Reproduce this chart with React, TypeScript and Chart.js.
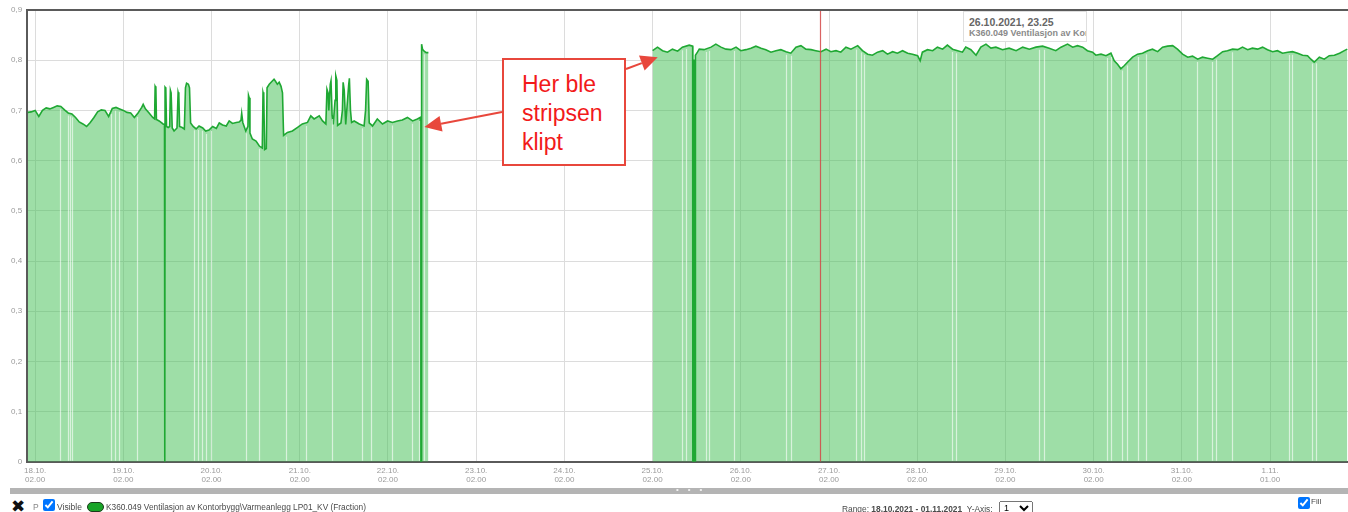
import { useEffect, useRef } from 'react';
import { Chart, registerables } from 'chart.js';

Chart.register(...registerables);

// ---- data (hours after 18.10.2021 02.00, fraction) ----
const TICK_HOURS = [0, 24, 48, 72, 96, 120, 144, 168, 192, 216, 240, 264, 288, 312, 336];
const TICK_LABELS: string[][] = [
  ['18.10.', '02.00'], ['19.10.', '02.00'], ['20.10.', '02.00'], ['21.10.', '02.00'],
  ['22.10.', '02.00'], ['23.10.', '02.00'], ['24.10.', '02.00'], ['25.10.', '02.00'],
  ['26.10.', '02.00'], ['27.10.', '02.00'], ['28.10.', '02.00'], ['29.10.', '02.00'],
  ['30.10.', '02.00'], ['31.10.', '02.00'], ['1.11.', '01.00'],
];
const X_MIN = -2.18;
const X_MAX = 357.2;

const SEGMENT_1: [number, number][] = [
  [-2.0, 0.696], [-1.1, 0.697], [0, 0.7], [1.0, 0.688], [2.0, 0.7], [3.0, 0.705], [4.0, 0.703],
  [5.0, 0.706], [6.0, 0.709], [7.0, 0.708], [8.0, 0.701], [9.0, 0.695], [10.0, 0.693], [11.0, 0.686],
  [12.0, 0.677], [13.0, 0.673], [14.0, 0.668], [15.0, 0.676], [16.0, 0.686], [17.0, 0.697],
  [18.0, 0.701], [19.0, 0.7], [20.0, 0.688], [21.0, 0.704], [22.0, 0.706], [23.0, 0.703],
  [24.0, 0.7], [25.0, 0.696], [26.0, 0.695], [27.0, 0.686], [28.0, 0.695], [29.0, 0.706],
  [29.4, 0.712], [30.0, 0.703], [31.0, 0.695], [32.0, 0.686], [32.5, 0.683], [32.65, 0.748],
  [32.85, 0.745], [33.0, 0.682], [33.75, 0.679], [34.8, 0.673], [35.2, 0.672], [35.25, 0],
  [35.3, 0], [35.35, 0.746], [35.55, 0.744], [35.75, 0.668], [36.2, 0.666], [36.6, 0.668],
  [36.8, 0.74], [37.0, 0.735], [37.3, 0.665], [37.8, 0.659], [38.6, 0.665], [38.9, 0.736],
  [39.1, 0.73], [39.3, 0.668], [40.0, 0.666], [40.6, 0.663], [40.9, 0.745], [41.2, 0.754],
  [41.7, 0.752], [42.0, 0.745], [42.3, 0.675], [43.0, 0.668], [43.8, 0.663], [44.6, 0.669],
  [45.6, 0.665], [46.4, 0.659], [47.3, 0.661], [48.3, 0.668], [49.3, 0.664], [50.1, 0.675],
  [51.0, 0.671], [52.0, 0.669], [52.8, 0.679], [53.7, 0.674], [54.7, 0.676], [55.5, 0.677],
  [56.0, 0.68], [56.2, 0.694], [56.5, 0.676], [57.3, 0.659], [57.9, 0.668], [58.05, 0.73],
  [58.25, 0.725], [58.45, 0.655], [59.1, 0.643], [60.1, 0.639], [61.0, 0.629], [61.8, 0.625],
  [62.0, 0.736], [62.2, 0.73], [62.45, 0.622], [62.9, 0.624], [63.1, 0.745], [63.7, 0.752],
  [64.6, 0.759], [65.0, 0.762], [65.4, 0.758], [65.9, 0.752], [66.4, 0.756], [66.9, 0.748],
  [67.3, 0.735], [67.6, 0.65], [68.65, 0.656], [70.0, 0.659], [71.4, 0.666], [72.7, 0.673],
  [74.1, 0.676], [75.0, 0.689], [75.9, 0.683], [77.3, 0.689], [78.2, 0.679], [79.1, 0.673],
  [79.4, 0.742], [79.7, 0.735], [79.9, 0.7], [80.3, 0.752], [80.5, 0.759], [80.8, 0.69],
  [81.1, 0.672], [81.6, 0.72], [81.8, 0.769], [82.1, 0.76], [82.3, 0.67], [83.2, 0.675],
  [83.6, 0.7], [83.8, 0.756], [84.1, 0.74], [84.5, 0.672], [85.3, 0.75], [85.5, 0.764],
  [85.8, 0.7], [86.1, 0.676], [86.8, 0.679], [88.2, 0.673], [89.5, 0.669], [89.9, 0.7],
  [90.2, 0.762], [90.6, 0.758], [90.9, 0.675], [91.8, 0.669], [93.1, 0.683], [94.5, 0.673],
  [95.9, 0.679], [97.2, 0.676], [98.6, 0.679], [99.9, 0.681], [101.3, 0.686], [102.7, 0.679],
  [104.0, 0.683], [104.8, 0.686], [104.95, 0], [105.1, 0], [105.15, 0.832], [105.4, 0.822],
  [105.85, 0.818], [106.4, 0.815], [107.0, 0.815],
];

const SEGMENT_2: [number, number][] = [
  [168.0, 0.819], [169.33, 0.826], [170.7, 0.819], [172.05, 0.816], [173.4, 0.822], [174.8, 0.818],
  [176.1, 0.826], [177.96, 0.83], [178.9, 0.828], [178.95, 0], [179.1, 0], [179.15, 0.8],
  [179.45, 0.8], [179.5, 0], [179.6, 0], [179.65, 0.81], [180.2, 0.816], [180.7, 0.822],
  [181.98, 0.821], [183.9, 0.826], [185.2, 0.832], [186.6, 0.826], [187.95, 0.822], [189.3, 0.821],
  [190.7, 0.826], [192.0, 0.819], [193.4, 0.821], [194.75, 0.824], [196.1, 0.828], [197.5, 0.824],
  [198.8, 0.821], [200.2, 0.816], [201.55, 0.819], [202.9, 0.821], [204.3, 0.817], [205.6, 0.814],
  [207.0, 0.826], [208.35, 0.829], [209.7, 0.822], [211.1, 0.821], [212.4, 0.819], [213.8, 0.817],
  [215.2, 0.822], [216.5, 0.817], [217.9, 0.819], [219.2, 0.816], [220.6, 0.826], [221.96, 0.822],
  [223.8, 0.829], [225.1, 0.819], [226.5, 0.812], [227.8, 0.81], [229.2, 0.816], [230.6, 0.819],
  [231.9, 0.812], [233.3, 0.817], [234.6, 0.814], [236.0, 0.819], [237.4, 0.814], [238.7, 0.812],
  [240.1, 0.809], [240.8, 0.799], [241.4, 0.816], [242.8, 0.821], [244.2, 0.819], [245.5, 0.826],
  [246.9, 0.822], [248.2, 0.83], [249.6, 0.822], [251.0, 0.819], [252.3, 0.816], [253.2, 0.826],
  [254.6, 0.821], [256.0, 0.81], [257.3, 0.826], [258.7, 0.832], [260.05, 0.824], [261.4, 0.826],
  [263.2, 0.821], [265.0, 0.824], [266.9, 0.819], [268.7, 0.826], [270.5, 0.822], [272.3, 0.826],
  [274.1, 0.828], [275.9, 0.824], [277.7, 0.819], [279.1, 0.826], [280.9, 0.832], [282.3, 0.826],
  [283.6, 0.829], [285.0, 0.826], [286.3, 0.819], [287.7, 0.816], [288.6, 0.81], [290.0, 0.812],
  [291.35, 0.809], [292.7, 0.814], [293.6, 0.799], [294.5, 0.792], [295.4, 0.783], [296.3, 0.789],
  [297.2, 0.796], [298.6, 0.806], [299.95, 0.812], [301.3, 0.814], [302.7, 0.819], [304.0, 0.822],
  [305.4, 0.817], [306.75, 0.826], [308.1, 0.828], [309.5, 0.829], [310.8, 0.822], [312.2, 0.812],
  [313.6, 0.806], [314.9, 0.808], [316.3, 0.802], [317.6, 0.806], [319.0, 0.804], [320.4, 0.802],
  [321.7, 0.809], [323.1, 0.817], [324.4, 0.819], [325.8, 0.822], [327.2, 0.821], [328.5, 0.826],
  [329.9, 0.821], [331.2, 0.824], [332.6, 0.822], [333.96, 0.826], [335.3, 0.821], [336.7, 0.817],
  [338.0, 0.819], [339.4, 0.814], [340.8, 0.816], [342.1, 0.817], [343.5, 0.814], [344.85, 0.81],
  [346.2, 0.809], [347.1, 0.802], [348.0, 0.796], [349.4, 0.806], [350.75, 0.802], [352.1, 0.809],
  [353.5, 0.81], [354.9, 0.814], [356.2, 0.819], [357.0, 0.822],
];

// hours where single samples are missing (white stripes in the fill)
const GAP_HOURS = [
  6.72, 8.84, 9.44, 10.15, 20.68, 21.63, 22.86, 27.76, 43.27, 44.35, 45.44, 46.39, 47.89, 57.4,
  60.95, 68.22, 73.66, 80.82, 88.98, 91.35, 97.14, 102.59, 104.49, 105.85,
  176.05, 177.14, 182.45, 183.27, 190.21, 204.36, 205.72, 223.4, 224.77, 225.58, 249.52, 250.61,
  273.2, 274.56, 291.7, 292.79, 295.78, 297.15, 300.14, 302.32, 316.19, 320.27, 321.36, 325.71,
  341.22, 342.04, 347.49, 348.58,
];

const CURSOR_HOUR = 213.42; // 26.10.2021, 23.25
const ARROW_TARGETS: [number, number][] = [[105.9, 0.667], [169.4, 0.806]];

const SERIES_NAME = 'K360.049 Ventilasjon av Kontorbygg\\Varmeanlegg LP01_KV (Fraction)';

// ---- styles ----
const LINE_COLOR = '#1fa833';
const FILL_COLOR = 'rgba(61,189,79,0.5)';
const GRID_COLOR = '#dcdcdc';
const AXIS_COLOR = '#5a5a5a';
const TICK_COLOR = '#9a9a9a';
const RED = '#e8473c';
const FONT = '"Liberation Sans", Arial, sans-serif';

function valueAt(h: number): number | null {
  const all = [...SEGMENT_1, ...SEGMENT_2];
  for (let i = 0; i < all.length - 1; i++) {
    const [x0, y0] = all[i];
    const [x1, y1] = all[i + 1];
    if (h >= x0 && h <= x1 && x1 - x0 < 10) {
      const t = (h - x0) / (x1 - x0 || 1);
      return y0 + (y1 - y0) * t;
    }
  }
  return null;
}

function drawArrow(ctx: CanvasRenderingContext2D, x0: number, y0: number, x1: number, y1: number) {
  const ang = Math.atan2(y1 - y0, x1 - x0);
  const L = 17;
  const W = 8;
  const bx = x1 - L * Math.cos(ang);
  const by = y1 - L * Math.sin(ang);
  ctx.beginPath();
  ctx.moveTo(x0, y0);
  ctx.lineTo(bx, by);
  ctx.stroke();
  ctx.beginPath();
  ctx.moveTo(x1, y1);
  ctx.lineTo(bx + W * Math.sin(ang), by - W * Math.cos(ang));
  ctx.lineTo(bx - W * Math.sin(ang), by + W * Math.cos(ang));
  ctx.closePath();
  ctx.fill();
}

const overlayPlugin = {
  id: 'overlay',
  afterDatasetsDraw(chart: any) {
    const { ctx, chartArea: a, scales } = chart;
    const x = scales.x;
    const y = scales.y;
    ctx.save();
    ctx.beginPath();
    ctx.rect(a.left, a.top, a.right - a.left, a.bottom - a.top);
    ctx.clip();
    ctx.strokeStyle = 'rgba(255,255,255,0.6)';
    ctx.lineWidth = 1.2;
    for (const g of GAP_HOURS) {
      const v = valueAt(g);
      if (v == null) continue;
      const px = Math.round(x.getPixelForValue(g)) + 0.5;
      ctx.beginPath();
      ctx.moveTo(px, y.getPixelForValue(0) - 1);
      ctx.lineTo(px, y.getPixelForValue(v) + 3);
      ctx.stroke();
    }
    const cx = Math.round(x.getPixelForValue(CURSOR_HOUR)) + 0.5;
    ctx.strokeStyle = 'rgba(212,70,70,0.85)';
    ctx.lineWidth = 1.2;
    ctx.beginPath();
    ctx.moveTo(cx, a.top);
    ctx.lineTo(cx, a.bottom);
    ctx.stroke();
    ctx.restore();

    ctx.save();
    ctx.strokeStyle = AXIS_COLOR;
    ctx.lineWidth = 2;
    ctx.beginPath();
    ctx.moveTo(a.left - 1, a.top);
    ctx.lineTo(a.right, a.top);
    ctx.stroke();
    ctx.restore();
  },
  afterDraw(chart: any) {
    const { ctx, scales } = chart;
    const from: [number, number][] = [[502, 112], [626, 69]];
    ctx.save();
    ctx.strokeStyle = RED;
    ctx.fillStyle = RED;
    ctx.lineWidth = 2;
    ARROW_TARGETS.forEach(([h, v], i) => {
      drawArrow(ctx, from[i][0], from[i][1], scales.x.getPixelForValue(h), scales.y.getPixelForValue(v));
    });
    ctx.restore();
  },
};

export default function App() {
  const canvasRef = useRef<HTMLCanvasElement | null>(null);

  useEffect(() => {
    document.body.style.margin = '0';
    const canvas = canvasRef.current;
    if (!canvas) return;
    Chart.defaults.font.family = FONT;
    const points: any[] = [
      ...SEGMENT_1.map(([x, y]) => ({ x, y })),
      { x: 137, y: null },
      ...SEGMENT_2.map(([x, y]) => ({ x, y })),
    ];
    const chart = new Chart(canvas, {
      type: 'line',
      data: {
        datasets: [
          {
            data: points,
            borderColor: LINE_COLOR,
            backgroundColor: FILL_COLOR,
            borderWidth: 1.6,
            fill: 'origin',
            pointRadius: 0,
            tension: 0,
            spanGaps: false,
          },
        ],
      },
      options: {
        animation: false,
        responsive: false,
        events: [],
        layout: { padding: { left: 6, top: 10, right: 0, bottom: 0 } },
        plugins: { legend: { display: false }, tooltip: { enabled: false } },
        scales: {
          x: {
            type: 'linear',
            min: X_MIN,
            max: X_MAX,
            afterBuildTicks: (s: any) => {
              s.ticks = TICK_HOURS.map((v) => ({ value: v }));
            },
            ticks: {
              autoSkip: false,
              maxRotation: 0,
              padding: 4,
              color: TICK_COLOR,
              font: { size: 8, lineHeight: 1.2 },
              callback: (v: any) => {
                const i = TICK_HOURS.indexOf(Number(v));
                return i >= 0 ? TICK_LABELS[i] : '';
              },
            },
            grid: { color: GRID_COLOR, drawTicks: false },
            border: { color: AXIS_COLOR, width: 2 },
          },
          y: {
            min: 0,
            max: 0.9,
            ticks: {
              stepSize: 0.1,
              padding: 5,
              color: TICK_COLOR,
              font: { size: 8 },
              callback: (v: any) => (Number(v) === 0 ? '0' : Number(v).toFixed(1).replace('.', ',')),
            },
            grid: { color: GRID_COLOR, drawTicks: false },
            border: { color: AXIS_COLOR, width: 2 },
          },
        },
      },
      plugins: [overlayPlugin],
    } as any);
    return () => chart.destroy();
  }, []);

  const small: any = { position: 'absolute', fontSize: 8.5, color: '#4a4a4a', whiteSpace: 'nowrap', lineHeight: '12px' };

  return (
    <div style={{ position: 'relative', width: 1348, height: 512, overflow: 'hidden', fontFamily: FONT, background: '#fff' }}>
      <canvas ref={canvasRef} width={1348} height={489} style={{ position: 'absolute', left: 0, top: 0 }} />

      {/* hover tooltip */}
      <div
        style={{
          position: 'absolute', left: 963, top: 11, width: 124, height: 31, background: '#fff',
          border: '1px solid #dedede', boxSizing: 'border-box', overflow: 'hidden', whiteSpace: 'nowrap',
          paddingLeft: 5, paddingTop: 4,
        }}
      >
        <div style={{ fontSize: 10.5, fontWeight: 'bold', color: '#666', lineHeight: '12px' }}>26.10.2021, 23.25</div>
        <div style={{ fontSize: 9, fontWeight: 'bold', color: '#8a8a8a', lineHeight: '11px' }}>{SERIES_NAME}</div>
      </div>

      {/* annotation */}
      <div
        style={{
          position: 'absolute', left: 502, top: 58, width: 124, height: 108, boxSizing: 'border-box',
          border: `2px solid ${RED}`, background: '#fff', paddingLeft: 18, paddingTop: 10,
          color: '#f21a1a', fontSize: 23, lineHeight: '29px',
        }}
      >
        Her ble<br />stripsen<br />klipt
      </div>

      {/* splitter bar */}
      <div style={{ position: 'absolute', left: 10, top: 488, width: 1338, height: 6, background: '#b4b4b4' }} />
      <div style={{ position: 'absolute', left: 676, top: 484, fontSize: 8, color: '#f2f2f2', letterSpacing: 9, lineHeight: '12px' }}>•••</div>

      {/* legend row */}
      <div style={{ position: 'absolute', left: 11, top: 498, fontSize: 17, fontWeight: 'bold', color: '#111', lineHeight: '16px', fontFamily: '"DejaVu Sans", sans-serif' }}>✖</div>
      <div style={{ ...small, left: 33, top: 501, color: '#888' }}>P</div>
      <input type="checkbox" checked readOnly style={{ position: 'absolute', left: 43, top: 499, width: 12, height: 12, margin: 0 }} />
      <div style={{ ...small, left: 57, top: 501 }}>Visible</div>
      <div style={{ position: 'absolute', left: 87, top: 502, width: 15, height: 8, borderRadius: 5, background: '#18a428', border: '1.5px solid #1c3a1c' }} />
      <div style={{ ...small, left: 106, top: 501, fontSize: 8.3 }}>{SERIES_NAME}</div>

      <div style={{ ...small, left: 842, top: 503, fontSize: 8.4 }}>
        Range: <b>18.10.2021 - 01.11.2021</b>&nbsp;&nbsp;Y-Axis:
      </div>
      <select defaultValue="1" style={{ position: 'absolute', left: 999, top: 501, width: 34, height: 14, fontSize: 9, padding: 0, margin: 0 }}>
        <option value="1">1</option>
      </select>
      <input type="checkbox" checked readOnly style={{ position: 'absolute', left: 1298, top: 497, width: 12, height: 12, margin: 0 }} />
      <div style={{ ...small, left: 1311, top: 496, fontSize: 8 }}>Fill</div>
    </div>
  );
}
